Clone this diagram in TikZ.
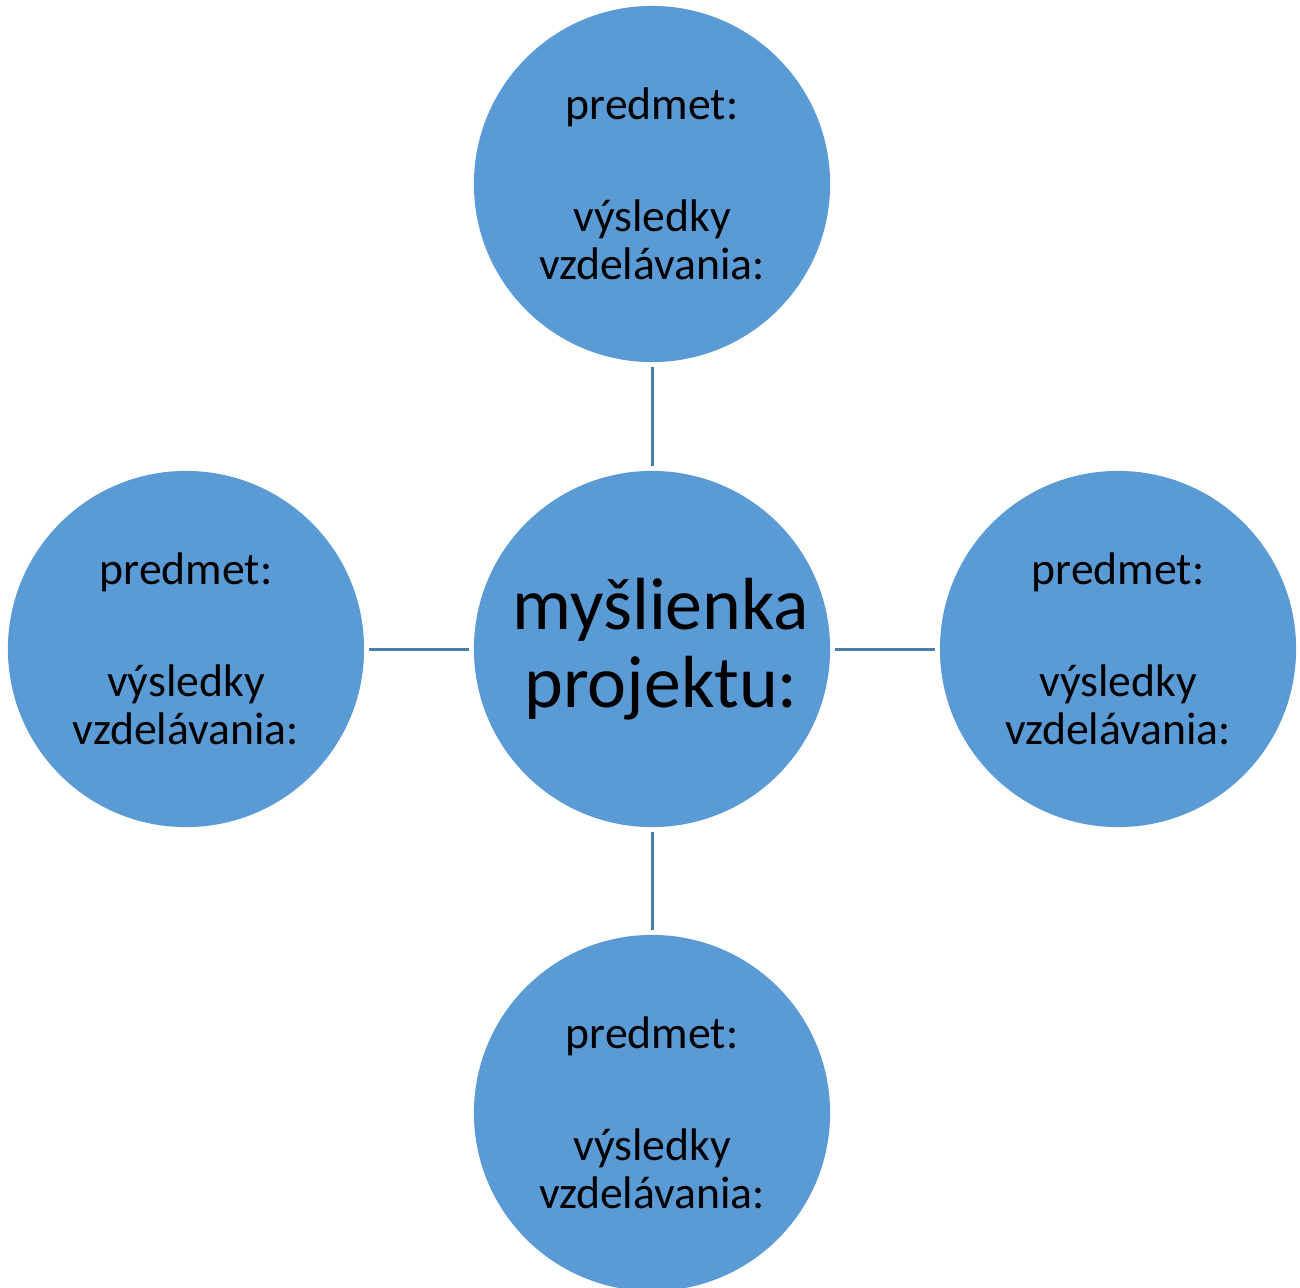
\documentclass[tikz,border=0pt]{standalone}
\usepackage{fontspec}
\setmainfont{Carlito}
\definecolor{bubble}{HTML}{5B9BD5}
\definecolor{linkc}{HTML}{4A7DAB}
\begin{document}
\begin{tikzpicture}[x=0.01cm,y=-0.01cm,
  bub/.style={circle,fill=bubble,draw=none,minimum size=3.56cm,inner sep=0pt,align=center,
    font=\fontsize{13pt}{13.66pt}\selectfont},
  hub/.style={bub,font=\fontsize{21pt}{22.2pt}\selectfont},
  link/.style={draw=linkc,line width=0.85pt}]
\useasboundingbox (0,0) rectangle (1300,1287);
\node[hub] (c) at (652,649) {\hspace*{0.18cm}myšlienka\\\hspace*{0.18cm}projektu:};
\node[bub] (t) at (652,184) {predmet:\\[18.2pt]výsledky\\vzdelávania:};
\node[bub] (l) at (186,649) {predmet:\\[18.2pt]výsledky\\vzdelávania:};
\node[bub] (r) at (1118,649) {predmet:\\[18.2pt]výsledky\\vzdelávania:};
\node[bub] (b) at (652,1113) {predmet:\\[18.2pt]výsledky\\vzdelávania:};
\draw[link] ([yshift=-0.04cm]t.south) -- ([yshift=0.04cm]c.north);
\draw[link] ([yshift=-0.04cm]c.south) -- ([yshift=0.04cm]b.north);
\draw[link] ([xshift=0.04cm]l.east) -- ([xshift=-0.04cm]c.west);
\draw[link] ([xshift=0.04cm]c.east) -- ([xshift=-0.04cm]r.west);
\end{tikzpicture}
\end{document}
